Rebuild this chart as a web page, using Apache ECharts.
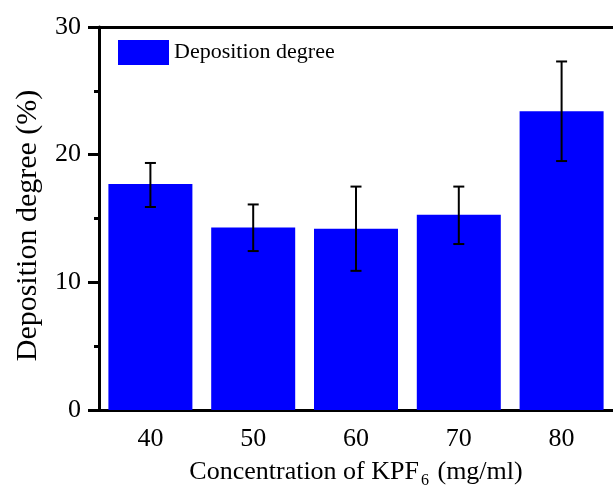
<!DOCTYPE html>
<html>
<head>
<meta charset="utf-8">
<script src="https://cdn.jsdelivr.net/npm/echarts@6/dist/echarts.min.js"></script>
<style>
  html, body { margin: 0; padding: 0; background: #fff; }
  #chart { width: 613px; height: 494px; }
</style>
</head>
<body>
<div id="chart"></div>
<script>
// concentration of KPF6 (mg/ml)
var categories = ['40', '50', '60', '70', '80'];
// deposition degree (%)
var degree = [17.7, 14.3, 14.2, 15.3, 23.4];
// error bar ends
var errLow = [15.9, 12.45, 10.9, 13.0, 19.5];
var errHigh = [19.35, 16.1, 17.5, 17.5, 27.3];

var font = 'Liberation Serif';
var myChart = echarts.init(document.getElementById('chart'));

var errData = [];
for (var i = 0; i < categories.length; i++) {
    errData.push([i, errLow[i], errHigh[i]]);
}

myChart.setOption({
    animation: false,
    legend: {
        left: 113,
        top: 35,
        itemWidth: 51,
        itemHeight: 25,
        icon: 'rect',
        data: ['Deposition degree'],
        textStyle: { fontFamily: font, fontSize: 22, color: '#000' }
    },
    grid: {
        left: 99,
        top: 27,
        bottom: 80,
        right: -3
    },
    xAxis: [
        {
            type: 'category',
            data: categories,
            name: 'Concentration of KPF{sub|6} (mg/ml)',
            nameLocation: 'middle',
            nameGap: 45,
            nameTextStyle: {
                fontFamily: font,
                fontSize: 26,
                color: '#000',
                rich: {
                    sub: { fontFamily: font, fontSize: 16, padding: [18, 2, 0, 2], color: '#000' }
                }
            },
            axisLine: { lineStyle: { color: '#000', width: 3 } },
            axisTick: { alignWithLabel: true, length: 10, lineStyle: { color: '#000', width: 3 } },
            axisLabel: { fontFamily: font, fontSize: 26, color: '#000', margin: 16 }
        },
        {
            type: 'category',
            data: categories,
            position: 'bottom',
            axisLine: { show: false },
            axisTick: { length: 5, lineStyle: { color: '#000', width: 3 } },
            axisLabel: { show: false }
        },
        {
            type: 'category',
            data: categories,
            position: 'top',
            axisLine: { lineStyle: { color: '#000', width: 3 } },
            axisTick: { show: false },
            axisLabel: { show: false }
        }
    ],
    yAxis: {
        type: 'value',
        min: 0,
        max: 30,
        interval: 10,
        name: 'Deposition degree (%)',
        nameLocation: 'middle',
        nameGap: 56,
        nameTextStyle: { fontFamily: font, fontSize: 30, color: '#000', padding: [0, 14, 0, 0] },
        axisLine: { show: true, lineStyle: { color: '#000', width: 3 } },
        axisTick: { show: true, length: 11, lineStyle: { color: '#000', width: 3 } },
        minorTick: { show: true, splitNumber: 2, length: 5, lineStyle: { color: '#000', width: 3 } },
        splitLine: { show: false },
        axisLabel: { fontFamily: font, fontSize: 26, color: '#000', margin: 18 }
    },
    series: [
        {
            name: 'Deposition degree',
            type: 'bar',
            barWidth: 84,
            itemStyle: { color: '#0000ff' },
            data: degree
        },
        {
            type: 'custom',
            name: 'error',
            z: 5,
            data: errData,
            renderItem: function (params, api) {
                var x = api.value(0);
                var lo = api.coord([x, api.value(1)]);
                var hi = api.coord([x, api.value(2)]);
                var w = 5.5;
                var style = { stroke: '#000', lineWidth: 2 };
                return {
                    type: 'group',
                    children: [
                        { type: 'line', shape: { x1: hi[0], y1: hi[1], x2: lo[0], y2: lo[1] }, style: style },
                        { type: 'line', shape: { x1: hi[0] - w, y1: hi[1], x2: hi[0] + w, y2: hi[1] }, style: style },
                        { type: 'line', shape: { x1: lo[0] - w, y1: lo[1], x2: lo[0] + w, y2: lo[1] }, style: style }
                    ]
                };
            }
        }
    ]
});
</script>
</body>
</html>
